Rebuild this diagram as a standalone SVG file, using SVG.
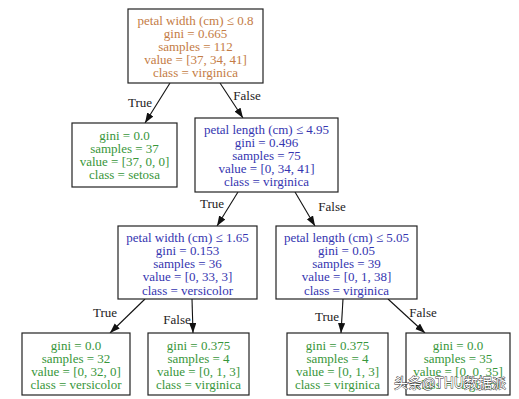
<svg xmlns="http://www.w3.org/2000/svg" width="519" height="399" viewBox="0 0 519 399">
<style>
text{font-family:"Liberation Serif","Times New Roman",serif;font-size:13px;text-anchor:middle}
.box{fill:#fff;stroke:#222;stroke-width:1.2}
.or{fill:#c47c45}
.bl{fill:#3535b0}
.gr{fill:#37963a}
.el{fill:#222}
.edge{stroke:#111;stroke-width:1.1;fill:none;marker-end:url(#ah)}
.wm{font-family:"Noto Sans CJK SC","Noto Sans",sans-serif;font-size:14px;fill:#fff;stroke:#333;stroke-width:0.9;paint-order:stroke;text-anchor:start}
</style>
<defs>
<marker id="ah" markerUnits="userSpaceOnUse" markerWidth="11" markerHeight="8" refX="10" refY="3.6" orient="auto">
<path d="M0,0 L10,3.6 L0,7.2 z" fill="#111"/>
</marker>
</defs>
<rect width="519" height="399" fill="#fff"/>
<g id="connectors">
<line class="edge" x1="170" y1="83" x2="145" y2="123"/>
<line class="edge" x1="220" y1="83" x2="243" y2="118"/>
<line class="edge" x1="238" y1="192" x2="217" y2="226"/>
<line class="edge" x1="295" y1="192" x2="315" y2="226"/>
<line class="edge" x1="145" y1="299" x2="110" y2="333"/>
<line class="edge" x1="192" y1="299" x2="193" y2="333"/>
<line class="edge" x1="343" y1="299" x2="341" y2="333"/>
<line class="edge" x1="388" y1="299" x2="425" y2="333"/>
<text class="el" x="140" y="106.5">True</text>
<text class="el" x="247" y="99.5">False</text>
<text class="el" x="212" y="207.5">True</text>
<text class="el" x="332" y="210.5">False</text>
<text class="el" x="105" y="316.5">True</text>
<text class="el" x="177" y="323.5">False</text>
<text class="el" x="327" y="320.5">True</text>
<text class="el" x="423" y="316.5">False</text>
</g>
<g id="n0">
<rect class="box" x="128" y="9" width="135" height="74"/>
<text class="or" x="195.5" y="25">petal width (cm) ≤ 0.8</text>
<text class="or" x="195.5" y="38">gini = 0.665</text>
<text class="or" x="195.5" y="51">samples = 112</text>
<text class="or" x="195.5" y="64">value = [37, 34, 41]</text>
<text class="or" x="195.5" y="77">class = virginica</text>
</g>
<g id="n1">
<rect class="box" x="72" y="123" width="105" height="64"/>
<text class="gr" x="124.5" y="139.5">gini = 0.0</text>
<text class="gr" x="124.5" y="152.8">samples = 37</text>
<text class="gr" x="124.5" y="166.1">value = [37, 0, 0]</text>
<text class="gr" x="124.5" y="179.4">class = setosa</text>
</g>
<g id="n2">
<rect class="box" x="195" y="118" width="143" height="74"/>
<text class="bl" x="266.5" y="133.5">petal length (cm) ≤ 4.95</text>
<text class="bl" x="266.5" y="146.5">gini = 0.496</text>
<text class="bl" x="266.5" y="159.5">samples = 75</text>
<text class="bl" x="266.5" y="172.5">value = [0, 34, 41]</text>
<text class="bl" x="266.5" y="185.5">class = virginica</text>
</g>
<g id="n3">
<rect class="box" x="118" y="226" width="139" height="73"/>
<text class="bl" x="187.5" y="241.5">petal width (cm) ≤ 1.65</text>
<text class="bl" x="187.5" y="254.8">gini = 0.153</text>
<text class="bl" x="187.5" y="268.1">samples = 36</text>
<text class="bl" x="187.5" y="281.4">value = [0, 33, 3]</text>
<text class="bl" x="187.5" y="294.7">class = versicolor</text>
</g>
<g id="n4">
<rect class="box" x="276" y="226" width="141" height="73"/>
<text class="bl" x="346.5" y="241.5">petal length (cm) ≤ 5.05</text>
<text class="bl" x="346.5" y="254.8">gini = 0.05</text>
<text class="bl" x="346.5" y="268.1">samples = 39</text>
<text class="bl" x="346.5" y="281.4">value = [0, 1, 38]</text>
<text class="bl" x="346.5" y="294.7">class = virginica</text>
</g>
<g id="n5">
<rect class="box" x="22" y="333" width="108" height="62"/>
<text class="gr" x="76" y="349.5">gini = 0.0</text>
<text class="gr" x="76" y="362.8">samples = 32</text>
<text class="gr" x="76" y="376.1">value = [0, 32, 0]</text>
<text class="gr" x="76" y="389.4">class = versicolor</text>
</g>
<g id="n6">
<rect class="box" x="148" y="333" width="101" height="62"/>
<text class="gr" x="198.5" y="349.5">gini = 0.375</text>
<text class="gr" x="198.5" y="362.8">samples = 4</text>
<text class="gr" x="198.5" y="376.1">value = [0, 1, 3]</text>
<text class="gr" x="198.5" y="389.4">class = virginica</text>
</g>
<g id="n7">
<rect class="box" x="287" y="333" width="101" height="62"/>
<text class="gr" x="337.5" y="349.5">gini = 0.375</text>
<text class="gr" x="337.5" y="362.8">samples = 4</text>
<text class="gr" x="337.5" y="376.1">value = [0, 1, 3]</text>
<text class="gr" x="337.5" y="389.4">class = virginica</text>
</g>
<g id="n8">
<rect class="box" x="406" y="333" width="104" height="62"/>
<text class="gr" x="458" y="349.5">gini = 0.0</text>
<text class="gr" x="458" y="362.8">samples = 35</text>
<text class="gr" x="458" y="376.1">value = [0, 0, 35]</text>
<text class="gr" x="458" y="389.4">class = virginica</text>
</g>
<text class="wm" x="394" y="388">头条@THU数据派</text>
</svg>
